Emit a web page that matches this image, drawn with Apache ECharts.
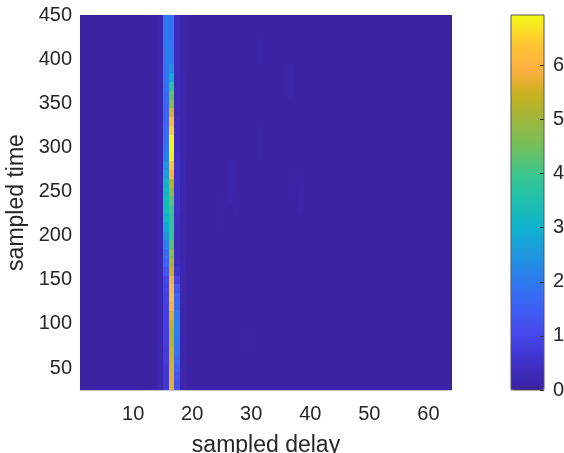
<!DOCTYPE html>
<html><head><meta charset="utf-8">
<style>html,body{margin:0;padding:0;background:#fff}#c{width:564px;height:453px;filter:blur(0.4px)}</style>
<script src="https://cdn.jsdelivr.net/npm/echarts@6/dist/echarts.min.js"></script>
</head><body><div id="c"></div>
<script>
// rows start at rowStart and are rowStep tall, bottom to top
const rowStart = 25, rowStep = 10, rowCount = 43;
const columnCount = 63, firstColumn = 1;
const backgroundValue = 0.05;
const col14 = [.2,.2,.2,.2,.2,.2,.2,.2,.2,.2,.2,.2,.2,.2,.2,.2,.2,.2,.2,.2,.2,.2,.2,.2,.2,.2,.2,.2,.2,.2,.2,.2,.2,.2,.2,.2,.15,.15,.15,.15,.15,.15,.15];
const col15 = [.7,.7,.7,.75,.75,.8,.8,.85,.85,.85,.9,.95,1.0,1.3,1.55,1.8,2.15,2.5,2.85,3.1,3.3,3.3,3.2,3.0,2.7,2.4,2.15,1.95,1.8,1.7,1.6,1.6,1.65,1.7,1.8,1.9,1.95,2,2,2,2,2,2];
const col16 = [5.7,5.65,5.6,5.55,5.5,5.35,5.2,5.4,5.65,6.0,6.2,6.1,5.85,5.45,5.1,4.7,4.25,3.95,3.9,3.9,4.0,4.3,4.8,5.3,6.0,6.4,6.8,6.9,6.9,6.5,6.15,5.6,4.7,4.35,3.7,2.9,2.4,2.1,2.0,1.95,1.95,1.95,1.95];
const col17 = [1.2,1.3,1.5,1.7,1.9,2.0,2.1,2.1,2.0,1.75,1.6,1.3,.9,.55,.4,.35,.3,.3,.35,.4,.45,.5,.5,.5,.5,.5,.45,.4,.4,.4,.35,.3,.3,.3,.3,.3,.35,.35,.35,.35,.35,.35,.35];
const col18 = [.15,.15,.15,.15,.15,.15,.15,.15,.15,.15,.15,.15,.15,.2,.2,.15,.15,.15,.15,.15,.15,.15,.15,.2,.2,.2,.15,.15,.15,.15,.15,.15,.15,.15,.15,.15,.1,.1,.1,.1,.1,.1,.1];
// faint patches: [column, first row, last row, value]
const faintPatches = [[31,37,39,.14],[36,33,36,.1],[26,21,25,.1],[27,20,22,.09],[38,20,23,.1],[31,26,29,.09],[24,18,21,.08],[37,22,24,.08],[29,4,6,.08]];
const xTicks = [10,20,30,40,50,60];
const yTicks = [50,100,150,200,250,300,350,400,450];
const colorTicks = [0,1,2,3,4,5,6];
const colorMax = 6.93;
const parula = ['#3a22a0','#3f30c8','#4545ea','#3f5ff5','#2f78f0','#2095e0','#10b0d0','#1cc0b0','#38c490','#70c060','#9ab840','#c8b020','#ffb040','#fcc830','#f5fa14'];
const labels = {x:'sampled delay', y:'sampled time'};

const known = {14:col14,15:col15,16:col16,17:col17,18:col18};
const cells = [];
for (let c = 0; c < columnCount; c++) {
  const col = firstColumn + c;
  for (let r = 0; r < rowCount; r++) {
    let v = known[col] ? known[col][r] : backgroundValue;
    for (const p of faintPatches) if (p[0] === col && r >= p[1] && r <= p[2]) v = p[3];
    cells.push([col, rowStart + r*rowStep, v]);
  }
}
const txt = '#262626', font = 'Liberation Sans';
const chart = echarts.init(document.getElementById('c'), null, {renderer:'canvas'});
chart.setOption({
  animation:false,
  backgroundColor:'#fff',
  textStyle:{fontFamily:font},
  visualMap:{type:'continuous',seriesIndex:0,dimension:2,min:0,max:colorMax,show:true,calculable:false,
    left:511,top:15,itemWidth:33,itemHeight:375,padding:0,text:null,showLabel:false,hoverLink:false,
    textStyle:{color:'rgba(0,0,0,0)',fontSize:1},inRange:{color:parula},z:0,zlevel:0},
  grid:[
    {left:80,top:15,width:372,height:375,show:false,outerBoundsMode:'none'},
    {left:511,top:15,width:33,height:375,show:true,borderColor:'#555',borderWidth:1,backgroundColor:'transparent',z:6,zlevel:1,outerBoundsMode:'none'}
  ],
  xAxis:[
    {gridIndex:0,type:'value',min:1,max:64,
      axisLine:{show:true,onZero:false,lineStyle:{color:'#c9c8d8',width:1}},splitLine:{show:false},
      axisLabel:{color:txt,fontSize:20,margin:14,customValues:xTicks},
      axisTick:{show:false,customValues:xTicks},
      name:labels.x,nameLocation:'middle',nameGap:44,nameTextStyle:{color:txt,fontSize:23}},
    {gridIndex:1,type:'value',min:0,max:1,show:false}
  ],
  yAxis:[
    {gridIndex:0,type:'value',min:25,max:451,
      axisLine:{show:true,onZero:false,lineStyle:{color:'#c9c8d8',width:1}},splitLine:{show:false},
      axisLabel:{color:txt,fontSize:20,margin:8,padding:[2,0,0,0],customValues:yTicks},
      axisTick:{show:false,customValues:yTicks},
      name:labels.y,nameLocation:'middle',nameGap:49,nameTextStyle:{color:txt,fontSize:23}},
    {gridIndex:1,type:'value',min:0,max:colorMax,position:'right',z:8,zlevel:1,
      axisLine:{show:false,onZero:false},splitLine:{show:false},
      axisTick:{show:true,inside:true,length:4,lineStyle:{color:'#333',width:1},customValues:colorTicks},
      axisLabel:{color:txt,fontSize:20,margin:9,padding:[2,0,0,0],customValues:colorTicks}}
  ],
  series:[{
    type:'custom',xAxisIndex:0,yAxisIndex:0,coordinateSystem:'cartesian2d',
    encode:{x:0,y:1},clip:true,silent:true,data:cells,
    renderItem:function(params,api){
      const a = api.coord([api.value(0),api.value(1)]);
      const b = api.coord([api.value(0)+1,api.value(1)+rowStep]);
      const x0 = Math.round(a[0]), x1 = Math.round(b[0]), y0 = Math.round(a[1]), y1 = Math.round(b[1]);
      return {type:'rect',shape:{x:x0,y:y1,width:x1-x0,height:y0-y1},
        style:{fill:api.visual('color')}};
    }
  }]
});
</script></body></html>
